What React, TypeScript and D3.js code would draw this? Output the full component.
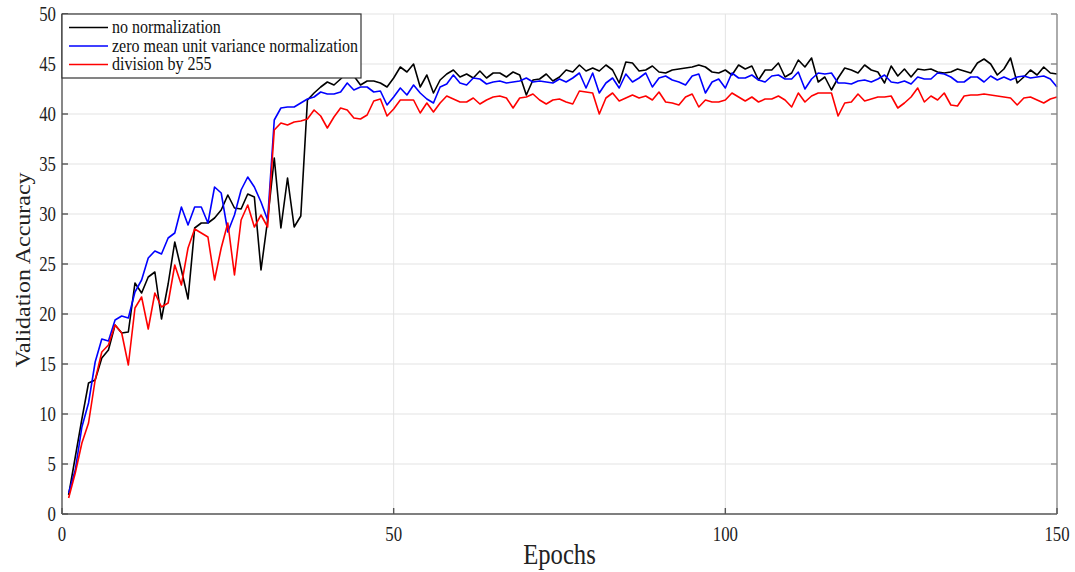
import * as d3 from 'd3';

// validation accuracy per epoch
const noNorm = [
  1.9, 5.7, 9.5, 13.1, 13.4, 15.6, 16.4, 18.9, 18.1, 18.2,
  23.1, 22.1, 23.7, 24.2, 19.5, 23.0, 27.2, 24.4, 21.5, 28.6,
  29.1, 29.1, 29.6, 30.4, 31.9, 30.6, 30.5, 32.0, 31.7, 24.4,
  29.4, 35.6, 28.6, 33.6, 28.7, 29.8, 41.4, 42.1, 42.7, 43.2,
  42.9, 43.5, 44.2, 43.8, 42.9, 43.3, 43.3, 43.1, 42.7, 43.6,
  44.7, 44.2, 45.0, 42.7, 43.9, 42.1, 43.4, 44.0, 44.4, 43.7,
  44.0, 43.6, 44.3, 43.6, 44.1, 44.1, 43.7, 44.2, 43.9, 41.9,
  43.4, 43.5, 44.0, 43.3, 43.7, 44.4, 44.2, 44.9, 44.3, 44.6,
  44.3, 44.9, 44.4, 43.1, 45.2, 45.1, 44.3, 44.4, 44.8, 44.2,
  44.1, 44.4, 44.5, 44.6, 44.7, 44.9, 44.7, 44.2, 44.1, 44.4,
  43.9, 44.9, 44.5, 44.8, 43.4, 44.4, 44.4, 45.1, 43.7, 44.1,
  45.4, 44.7, 45.6, 43.2, 43.7, 42.4, 43.6, 44.6, 44.4, 44.1,
  44.9, 44.4, 44.2, 43.1, 44.8, 43.8, 44.5, 43.7, 44.5, 44.4,
  44.5, 44.2, 44.1, 44.2, 44.5, 44.3, 44.1, 45.1, 45.5, 45.0,
  43.9, 44.5, 45.6, 43.1, 43.7, 44.4, 43.9, 44.7, 44.1, 44.0,
];

const zeroMean = [
  2.1, 4.4, 8.7, 11.1, 15.2, 17.5, 17.3, 19.4, 19.8, 19.6,
  22.2, 23.4, 25.6, 26.3, 26.0, 27.6, 28.1, 30.7, 28.9, 30.7,
  30.7, 29.1, 32.7, 32.1, 28.2, 29.9, 32.4, 33.7, 32.7, 31.2,
  29.4, 39.4, 40.6, 40.7, 40.7, 41.1, 41.5, 41.7, 42.2, 42.0,
  42.0, 42.2, 43.1, 42.4, 42.7, 42.7, 42.2, 42.3, 40.9, 41.7,
  42.6, 41.9, 42.9, 42.1, 41.5, 41.1, 42.7, 43.0, 43.9, 43.1,
  42.9, 43.6, 43.5, 43.0, 43.2, 43.3, 43.1, 43.2, 43.3, 43.6,
  43.2, 43.3, 43.2, 43.1, 43.5, 43.2, 43.6, 44.1, 42.6, 44.1,
  42.1, 43.1, 43.6, 42.6, 44.0, 43.2, 43.6, 44.1, 42.7, 43.6,
  43.8, 43.4, 43.2, 42.9, 43.8, 44.0, 42.1, 43.2, 43.5, 42.6,
  44.1, 43.6, 43.6, 43.9, 43.4, 43.2, 43.8, 43.9, 43.5, 43.5,
  44.2, 42.5, 43.5, 44.1, 44.0, 44.1, 43.1, 43.1, 43.0, 43.3,
  43.4, 43.2, 43.5, 43.9, 43.2, 43.1, 43.3, 43.0, 43.7, 43.5,
  43.5, 44.1, 44.0, 43.7, 43.2, 43.2, 43.7, 43.7, 43.2, 43.8,
  43.4, 43.7, 43.4, 43.7, 43.8, 43.6, 43.7, 43.8, 43.5, 42.7,
];

const div255 = [
  1.6, 4.1, 7.1, 9.1, 13.4, 16.2, 16.9, 18.9, 18.1, 14.9,
  20.6, 21.7, 18.5, 22.1, 20.7, 21.1, 24.9, 22.9, 26.6, 28.5,
  28.1, 27.7, 23.4, 26.6, 29.1, 23.9, 29.4, 30.9, 28.7, 29.9,
  28.7, 38.4, 39.1, 38.9, 39.2, 39.3, 39.5, 40.4, 39.8, 38.6,
  39.7, 40.6, 40.4, 39.6, 39.5, 39.9, 41.3, 41.5, 39.8, 40.5,
  41.4, 41.4, 41.4, 40.1, 41.1, 40.2, 41.1, 41.8, 41.5, 41.2,
  41.2, 41.6, 41.0, 41.4, 41.7, 41.8, 41.6, 40.6, 41.6, 41.7,
  42.0, 41.4, 41.0, 41.4, 41.5, 41.2, 41.0, 42.3, 42.2, 42.1,
  40.0, 41.6, 42.1, 41.3, 41.6, 41.9, 41.6, 41.8, 41.4, 42.2,
  41.2, 41.1, 40.9, 41.7, 42.0, 40.7, 41.4, 41.2, 41.2, 41.4,
  42.1, 41.7, 41.3, 41.7, 41.2, 41.5, 41.5, 41.8, 41.4, 40.7,
  42.1, 41.2, 41.8, 42.1, 42.1, 42.1, 39.8, 41.1, 41.2, 42.0,
  41.3, 41.5, 41.7, 41.7, 41.8, 40.6, 41.1, 41.7, 42.6, 41.2,
  41.8, 41.4, 42.1, 40.9, 40.8, 41.8, 41.9, 41.9, 42.0, 41.9,
  41.8, 41.7, 41.6, 40.9, 41.6, 41.7, 41.4, 41.1, 41.5, 41.7,
];

const seriesNames = ['no normalization', 'zero mean unit variance normalization', 'division by 255'];
const seriesColors = ['#000000', '#0000ff', '#ff0000'];
const xTicks = [0, 50, 100, 150];
const yTicks = [0, 5, 10, 15, 20, 25, 30, 35, 40, 45, 50];

const W = 1075;
const H = 572;
const margin = { top: 14, right: 18, bottom: 58, left: 62 };
const FONT = '"Liberation Serif", "Times New Roman", serif';

export default function App() {
  const series = [noNorm, zeroMean, div255];

  const x = d3.scaleLinear().domain([0, 150]).range([margin.left, W - margin.right]);
  const y = d3.scaleLinear().domain([0, 50]).range([H - margin.bottom, margin.top]);

  const line = d3.line<number>()
    .x((_, i) => x(i + 1))
    .y(d => y(d));

  const x0 = x(0), x1 = x(150), y0 = y(0), y1 = y(50);

  return (
    <svg width={W} height={H} style={{ position: 'absolute', left: 0, top: 0, background: '#fff' }}>
      {/* grid */}
      <g stroke="#e3e3e3" strokeWidth={1}>
        {yTicks.filter(t => t > 0).map(t => (
          <line key={'gy' + t} x1={x0} x2={x1} y1={y(t)} y2={y(t)} />
        ))}
        {xTicks.filter(t => t > 0 && t < 150).map(t => (
          <line key={'gx' + t} x1={x(t)} x2={x(t)} y1={y0} y2={y1} />
        ))}
      </g>

      {/* the three curves */}
      <g fill="none" strokeWidth={1.6} strokeLinejoin="round">
        {series.map((s, i) => (
          <path key={i} d={line(s) || ''} stroke={seriesColors[i]} />
        ))}
      </g>

      {/* axes */}
      <g stroke="#555" strokeWidth={1.4}>
        <line x1={x0} x2={x0} y1={y1} y2={y0} />
        <line x1={x0} x2={x1} y1={y0} y2={y0} />
        <line x1={x1} x2={x1} y1={y1} y2={y0} stroke="#888" />
        {yTicks.map(t => (
          <g key={'ty' + t}>
            <line x1={x0} x2={x0 + 6} y1={y(t)} y2={y(t)} />
            <line x1={x1} x2={x1 - 6} y1={y(t)} y2={y(t)} stroke="#888" />
          </g>
        ))}
        {xTicks.map(t => (
          <line key={'tx' + t} x1={x(t)} x2={x(t)} y1={y0} y2={y0 - 6} />
        ))}
      </g>

      {/* tick labels */}
      <g fontFamily={FONT} fontSize={21} fill="#222">
        {yTicks.map(t => (
          <text key={'ly' + t} transform={`translate(${x0 - 6},${y(t) + 7}) scale(0.8,1)`} textAnchor="end">{t}</text>
        ))}
        {xTicks.map(t => (
          <text key={'lx' + t} transform={`translate(${x(t)},${y0 + 27}) scale(0.8,1)`} textAnchor="middle">{t}</text>
        ))}
      </g>

      {/* axis titles */}
      <text transform={`translate(${(x0 + x1) / 2},${H - 8}) scale(0.85,1)`} textAnchor="middle"
        fontFamily={FONT} fontSize={29} fill="#222">Epochs</text>
      <text transform={`translate(30,${(y0 + y1) / 2 + 6}) rotate(-90) scale(1,0.85)`} textAnchor="middle"
        fontFamily={FONT} fontSize={24} fill="#222">Validation Accuracy</text>

      {/* legend */}
      <g>
        <rect x={x0} y={y1} width={299} height={64} fill="#fff" stroke="#333" strokeWidth={1.2} />
        {seriesNames.map((n, i) => (
          <g key={n} transform={`translate(0,${y1 + 13.5 + i * 18.5})`}>
            <line x1={69} x2={108} y1={0} y2={0} stroke={seriesColors[i]} strokeWidth={1.6} />
            <text transform="translate(112,5.5) scale(0.89,1)" fontFamily={FONT} fontSize={18} fill="#111">{n}</text>
          </g>
        ))}
      </g>
    </svg>
  );
}
